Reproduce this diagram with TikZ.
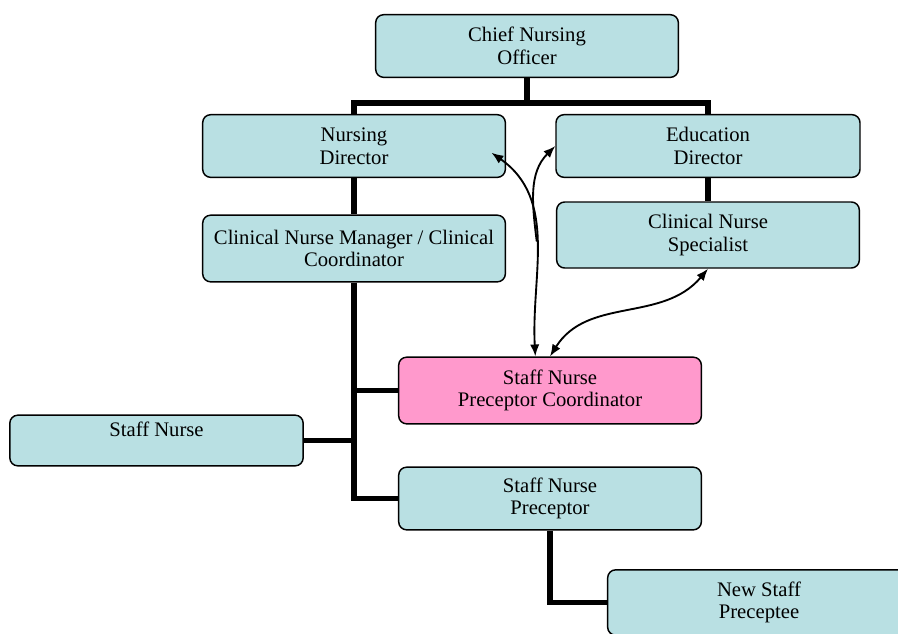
\documentclass[tikz,border=0pt]{standalone}
\usepackage{fontspec}
\setmainfont{Liberation Serif}
\usepackage{tikz}
\usetikzlibrary{arrows.meta}
\definecolor{boxteal}{RGB}{185,224,227}
\definecolor{boxpink}{RGB}{255,153,204}

\begin{document}
\begin{tikzpicture}[x=0.75pt, y=-0.75pt,
		orgbox/.style={draw, line width=1.1pt, rounded corners=6pt, fill=boxteal, align=center,
			minimum width=227pt, minimum height=47pt, inner sep=2pt,
			font=\fontsize{15.5}{17}\selectfont},
		conn/.style={line width=4.3pt},
		link/.style={line width=1.4pt, {Latex[length=9pt,width=7pt]}-{Latex[length=9pt,width=7pt]}}]
		\useasboundingbox (0,0) rectangle (898,633);
		% boxes
		\node [orgbox] (cno) at (527,46) {Chief Nursing\\Officer};
		\node [orgbox] (nd) at (354,146) {Nursing\\Director};
		\node [orgbox, minimum width=228pt] (ed) at (708,146) {Education\\Director};
		\node [orgbox, minimum height=50pt] (cnm) at (354,248.5) {Clinical Nurse Manager / Clinical\\Coordinator};
		\node [orgbox, minimum height=49.5pt] (cns) at (708,235) {Clinical Nurse\\Specialist};
		\node [orgbox, fill=boxpink, minimum height=50pt] (spc) at (550,390.5) {Staff Nurse\\Preceptor Coordinator};
		\node [orgbox, minimum width=220pt, minimum height=38pt] (sn) at (156.5,440.5) {Staff Nurse\\\mbox{}};
		\node [orgbox] (snp) at (550,498.5) {Staff Nurse\\Preceptor};
		\node [orgbox, minimum height=49pt] (nsp) at (759,602.5) {New Staff\\Preceptee};
		% reporting lines
		\coordinate (bus) at (527,103);
		\draw [conn] (cno) -- (bus);
		\draw [conn] (bus) -| (nd);
		\draw [conn] (bus) -| (ed);
		\draw [conn] (nd) -- (cnm);
		\draw [conn] (ed) -- (cns);
		\draw [conn] (cnm) |- (spc);
		\draw [conn] (cnm) |- (snp);
		\draw [conn] (sn.east) -- (sn.east -| cnm.south);
		\draw [conn] (snp) |- (nsp);
		% liaison arrows
		\draw [link] ([xshift=-11pt]spc.north) to[out=93, in=-35] coordinate[pos=0.5] (fork) ([xshift=-11pt, yshift=-5pt]nd.east);
		\draw [link, {Latex[length=9pt,width=7pt]}-] (ed.west) to[out=-135, in=97] (fork);
		\draw [link] (spc.north) to[out=58, in=-130] (cns.south);
	\end{tikzpicture}
\end{document}
